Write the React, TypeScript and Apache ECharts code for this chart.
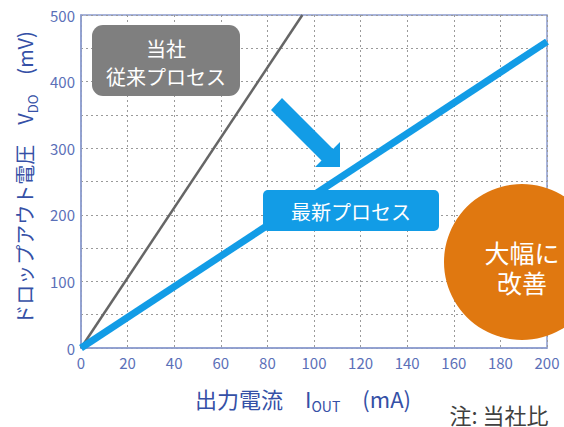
import React, { useEffect, useRef } from "react";
import * as echarts from "echarts";

const legacyProcess: [number, number][] = [[0, 0], [95, 500]];
const latestProcess: [number, number][] = [[0, 0], [200, 460]];
const xRange = [0, 200];
const yRange = [0, 500];

const FONT = "'Noto Sans CJK JP', 'Noto Sans', sans-serif";

export default function App() {
  const ref = useRef<HTMLDivElement>(null);
  useEffect(() => {
    const chart = echarts.init(ref.current!, null, { renderer: "svg" });
    const axisColor = "#8c9ccf";
    const labelColor = "#5b70b8";
    const titleColor = "#3550a6";
    chart.setOption({
      animation: false,
      textStyle: { fontFamily: FONT },
      grid: { left: 81, right: 17, top: 15, bottom: 79, show: true, borderColor: axisColor, borderWidth: 1.5 },
      xAxis: {
        type: "value", min: xRange[0], max: xRange[1], interval: 20,
        axisLine: { show: true, lineStyle: { color: axisColor, width: 1.5 } },
        axisTick: { show: false },
        axisLabel: { color: labelColor, fontSize: 15, margin: 7, fontFamily: FONT },
        splitLine: { show: true, lineStyle: { color: "#9a9a9a", type: [2, 3], width: 1 } },
      },
      yAxis: {
        type: "value", min: yRange[0], max: yRange[1], interval: 50,
        axisLine: { show: true, lineStyle: { color: axisColor, width: 1.5 } },
        axisTick: { show: false },
        axisLabel: { color: labelColor, fontSize: 15, margin: 6, fontFamily: FONT, formatter: (v: number) => (v % 100 === 0 ? String(v) : "") },
        splitLine: { show: true, lineStyle: { color: "#9a9a9a", type: [2, 3], width: 1 } },
      },
      series: [
        { type: "line", data: legacyProcess, symbol: "none", lineStyle: { color: "#666666", width: 2.5 }, z: 2 },
        { type: "line", data: latestProcess, symbol: "none", lineStyle: { color: "#129ce6", width: 7 }, z: 3 },
      ],
      graphic: [
        { type: "rect", z: 100, shape: { x: 92, y: 25, width: 148, height: 71, r: 11 }, style: { fill: "#7f7f7f" } },
        { type: "text", z: 101, x: 166, y: 62, style: { text: "当社\n従来プロセス", fill: "#fff", fontSize: 20, lineHeight: 28, fontFamily: FONT, align: "center", verticalAlign: "middle" } },
        { type: "polygon", z: 100, shape: { points: [[271, 110], [282, 98], [333, 149], [340, 142], [340, 167], [315, 167], [321.5, 160.5]] }, style: { fill: "#129ce6" } },
        { type: "rect", z: 100, shape: { x: 263, y: 190, width: 176, height: 41, r: 5 }, style: { fill: "#129ce6" } },
        { type: "text", z: 101, x: 351, y: 211, style: { text: "最新プロセス", fill: "#fff", fontSize: 20, fontFamily: FONT, align: "center", verticalAlign: "middle" } },
        { type: "circle", z: 100, shape: { cx: 522, cy: 262, r: 78 }, style: { fill: "#e07810" } },
        { type: "text", z: 101, x: 522, y: 267, style: { text: "大幅に\n改善", fill: "#fff", fontSize: 25, lineHeight: 30, fontFamily: FONT, align: "center", verticalAlign: "middle" } },
        {
          type: "text", z: 101, x: 24, y: 178, rotation: Math.PI / 2,
          style: {
            text: "{m|ドロップアウト電圧　V}{s|DO}{m|　(mV)}",
            fill: titleColor, fontFamily: FONT, align: "center", verticalAlign: "middle",
            rich: {
              m: { fontSize: 20, lineHeight: 30, verticalAlign: "middle", fill: titleColor, fontFamily: FONT },
              s: { fontSize: 13, lineHeight: 30, verticalAlign: "bottom", fill: titleColor, fontFamily: FONT },
            },
          },
        },
        {
          type: "text", z: 101, x: 303, y: 398,
          style: {
            text: "{m|出力電流　I}{s|OUT}{m|　(mA)}",
            fill: titleColor, fontFamily: FONT, align: "center", verticalAlign: "middle",
            rich: {
              m: { fontSize: 22, lineHeight: 30, verticalAlign: "middle", fill: titleColor, fontFamily: FONT },
              s: { fontSize: 14, lineHeight: 30, verticalAlign: "bottom", fill: titleColor, fontFamily: FONT },
            },
          },
        },
        { type: "text", z: 101, x: 499, y: 414, style: { text: "注: 当社比", fill: "#404040", fontSize: 22, fontFamily: FONT, align: "center", verticalAlign: "middle" } },
      ],
    });
    return () => chart.dispose();
  }, []);
  return <div ref={ref} style={{ width: 564, height: 427, position: "absolute", left: 0, top: 0 }} />;
}
